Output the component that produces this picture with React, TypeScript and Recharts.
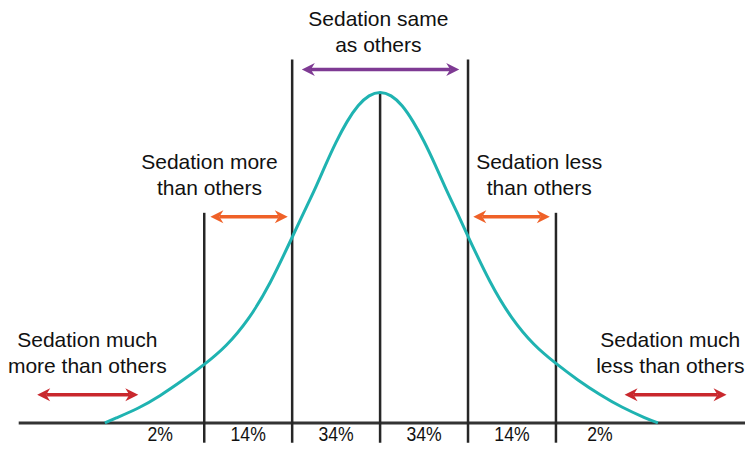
import React from 'react';
import { ComposedChart, Line, XAxis, YAxis, ReferenceLine, ReferenceDot } from 'recharts';

// x in standard deviations from the mean, y relative to the peak height
const curveX = [-3.13, -3.0, -2.75, -2.5, -2.25, -2.0, -1.75, -1.5, -1.25, -1.0, -0.875, -0.75, -0.625, -0.5, -0.375, -0.25, -0.125, 0, 0.125, 0.25, 0.375, 0.5, 0.625, 0.75, 0.875, 1.0, 1.25, 1.5, 1.75, 2.0, 2.25, 2.5, 2.75, 3.0, 3.16];
const curveY = [0, 0.015, 0.045, 0.083, 0.128, 0.177, 0.235, 0.315, 0.425, 0.562, 0.633, 0.703, 0.778, 0.85, 0.912, 0.96, 0.99, 1, 0.99, 0.96, 0.912, 0.852, 0.782, 0.708, 0.637, 0.565, 0.428, 0.318, 0.238, 0.18, 0.13, 0.086, 0.048, 0.017, 0];

const dividerX = [-2, -1, 0, 1, 2];
const dividerTop = [0.636, 1.1, 1.0, 1.1, 0.636];

const bandEdges = [-3, -2, -1, 0, 1, 2, 3];
const bandShares = ['2%', '14%', '34%', '34%', '14%', '2%'];

const groupLabels = [
  ['Sedation much', 'more than others'],
  ['Sedation more', 'than others'],
  ['Sedation same', 'as others'],
  ['Sedation less', 'than others'],
  ['Sedation much', 'less than others'],
];
const groupFrom = [-3.9, -1.93, -0.89, 1.06, 2.78];
const groupTo = [-2.75, -1.05, 0.9, 1.93, 3.94];
const groupLevel = [0.085, 0.624, 1.07, 0.624, 0.085];
const groupTextX = [-3.33, -1.94, -0.02, 1.81, 3.3];
const groupTextY = [0.23, 0.77, 1.203, 0.77, 0.23];
const groupColors = ['#c9282d', '#ef6128', '#7e3a93', '#ef6128', '#c9282d'];

const curve = curveX.map((x, i) => ({ x, y: curveY[i] }));

const FONT = '"Liberation Sans", Arial, Helvetica, sans-serif';

const Arrow = (props: any) => {
  const { x1, y1, x2, y2, color } = props;
  const len = 13;
  const half = 6.5;
  const notch = 4;
  const y = (y1 + y2) / 2;
  return (
    <g>
      <line x1={x1 + len - notch} y1={y} x2={x2 - len + notch} y2={y} stroke={color} strokeWidth={3.5} />
      <polygon points={`${x1},${y} ${x1 + len},${y - half} ${x1 + len - notch},${y} ${x1 + len},${y + half}`} fill={color} />
      <polygon points={`${x2},${y} ${x2 - len},${y - half} ${x2 - len + notch},${y} ${x2 - len},${y + half}`} fill={color} />
    </g>
  );
};

const TwoLines = (props: any) => {
  const { cx, cy, lines } = props;
  return (
    <text x={cx} y={cy} textAnchor="middle" fontFamily={FONT} fontSize={21} fill="#111">
      <tspan x={cx} dy={0}>{lines[0]}</tspan>
      <tspan x={cx} dy={26}>{lines[1]}</tspan>
    </text>
  );
};

const Share = (props: any) => {
  const { cx, cy, text } = props;
  return (
    <g transform={`translate(${cx},${cy}) scale(0.86,1)`}>
      <text x={0} y={0} textAnchor="middle" fontFamily={FONT} fontSize={20.5} fill="#111">{text}</text>
    </g>
  );
};

export default function App() {
  return (
    <div style={{ position: 'absolute', left: 0, top: 0, background: '#fff' }}>
      <ComposedChart width={747} height={449} data={curve} margin={{ top: 10, right: 2, bottom: 3, left: 2 }}>
        <XAxis type="number" dataKey="x" domain={[-4.3, 4.15]} hide allowDataOverflow />
        <YAxis type="number" domain={[-0.07, 1.25]} hide allowDataOverflow />

        <ReferenceLine segment={[{ x: -4.11, y: 0 }, { x: 4.15, y: 0 }]} stroke="#333" strokeWidth={3} ifOverflow="visible" />

        {dividerX.map((x, i) => (
          <ReferenceLine key={`d${i}`} segment={[{ x, y: -0.06 }, { x, y: dividerTop[i] }]} stroke="#262626" strokeWidth={2.5} ifOverflow="visible" />
        ))}

        <Line type="natural" dataKey="y" stroke="#1fb3b1" strokeWidth={3} dot={false} isAnimationActive={false} />

        {groupLabels.map((lines, i) => (
          <ReferenceLine
            key={`a${i}`}
            segment={[{ x: groupFrom[i], y: groupLevel[i] }, { x: groupTo[i], y: groupLevel[i] }]}
            ifOverflow="visible"
            shape={(p: any) => <Arrow {...p} color={groupColors[i]} />}
          />
        ))}

        {groupLabels.map((lines, i) => (
          <ReferenceDot
            key={`t${i}`}
            x={groupTextX[i]}
            y={groupTextY[i]}
            r={0}
            ifOverflow="visible"
            shape={(p: any) => <TwoLines {...p} lines={lines} />}
          />
        ))}

        {bandShares.map((s, i) => (
          <ReferenceDot
            key={`s${i}`}
            x={(bandEdges[i] + bandEdges[i + 1]) / 2}
            y={-0.055}
            r={0}
            ifOverflow="visible"
            shape={(p: any) => <Share {...p} text={s} />}
          />
        ))}
      </ComposedChart>
    </div>
  );
}
